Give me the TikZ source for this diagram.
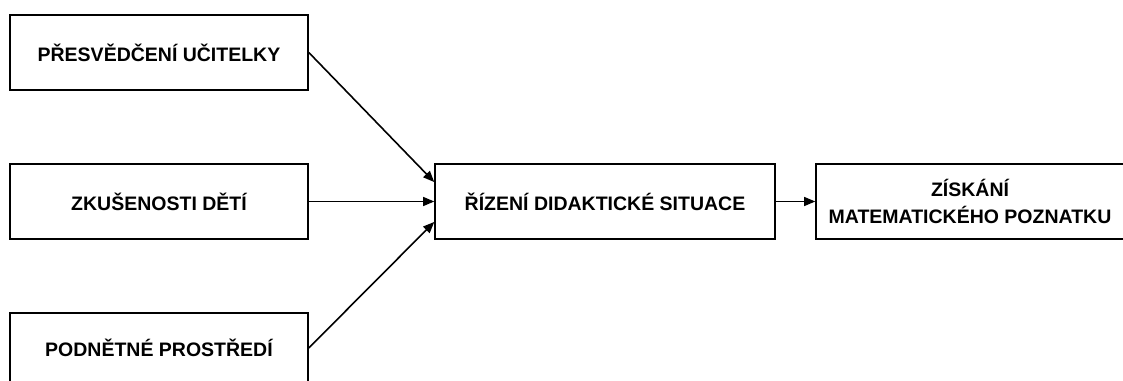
\documentclass[tikz,border=0pt]{standalone}
\usepackage{fontspec}
\setmainfont{Liberation Sans}
\usepackage{tikz}
\usetikzlibrary{arrows}
\tikzstyle{spoj} = [draw, -triangle 45, line width=1.6pt]
\tikzstyle{blok} = [draw, line width=1.6pt, rectangle, minimum height=75pt, align=center, inner sep=0pt]

\begin{document}
\begin{tikzpicture}[x=1pt,y=1pt]
	\tikzstyle{every node}=[font=\fontsize{19.5}{27}\selectfont\bfseries]
	\useasboundingbox (0,0) rectangle (1123,380);
	\clip (0,0) rectangle (1123,380);

	% ------------------- Input blocks ------------------- %
	\node[blok, minimum width=298pt] (ucitelka) at (159,327.5) {PŘESVĚDČENÍ UČITELKY};
	\node[blok, minimum width=298pt] (deti) at (159,178.5) {ZKUŠENOSTI DĚTÍ};
	\node[blok, minimum width=298pt, minimum height=70pt] (prostredi) at (159,32) {PODNĚTNÉ PROSTŘEDÍ};

	% ------------------- Middle and output blocks ------------------- %
	\node[blok, minimum width=340pt] (rizeni) at (605,178.5) {ŘÍZENÍ DIDAKTICKÉ SITUACE};
	\node[blok, minimum width=308pt] (poznatek) at (970,178.5) {ZÍSKÁNÍ\\MATEMATICKÉHO POZNATKU};

	\coordinate (vstup1) at ([yshift=19.5pt]rizeni.west);
	\coordinate (vstup3) at ([yshift=-20.5pt]rizeni.west);

	% ------------------- Arrows ------------------- %
	\path[spoj] (ucitelka.east) -- (vstup1);
	\path[spoj] (deti.east) -- (rizeni.west);
	\path[spoj] (prostredi.east) -- (vstup3);
	\path[spoj] (rizeni.east) -- (poznatek.west);
\end{tikzpicture}
\end{document}
